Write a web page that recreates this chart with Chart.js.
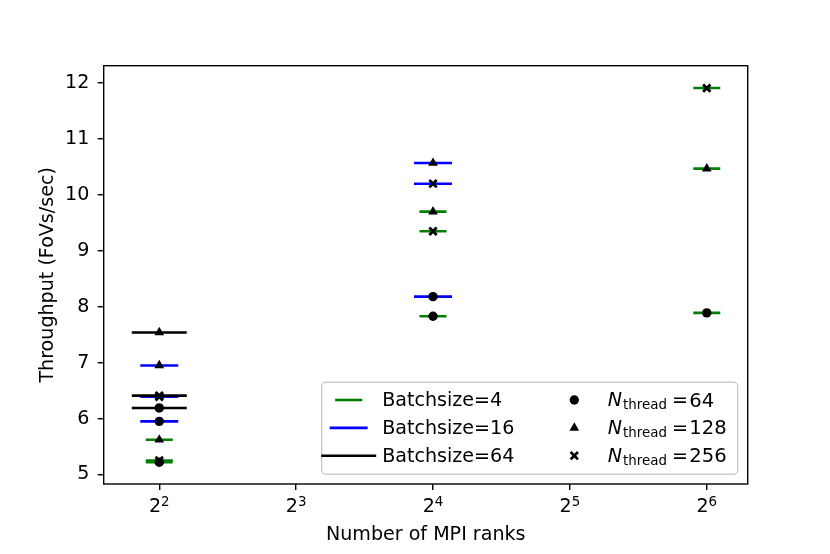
<!DOCTYPE html>
<html>
<head>
<meta charset="utf-8">
<script src="https://cdn.jsdelivr.net/npm/chart.js@4.4.0/dist/chart.umd.min.js"></script>
<style>
  html, body { margin: 0; background: #fff; }
  #wrap { width: 830px; height: 554px; }
</style>
</head>
<body>
<div id="wrap"><canvas id="chart" width="830" height="554"></canvas></div>
<script>
const ranks = [4, 16, 64];
const xTicks = [4, 8, 16, 32, 64];
const yTicks = [5, 6, 7, 8, 9, 10, 11, 12];
const batchSizes = [4, 16, 64];
const threadCounts = [64, 128, 256];

// throughput (FoVs/sec) for each rank count, null = no run
const b4_n64 = [5.22, 7.83, 7.89];
const b4_n128 = [5.62, 9.70, 10.47];
const b4_n256 = [5.25, 9.35, 11.91];
const b16_n64 = [5.95, 8.18, null];
const b16_n128 = [6.95, 10.57, null];
const b16_n256 = [6.39, 10.20, null];
const b64_n64 = [6.19, null, null];
const b64_n128 = [7.54, null, null];
const b64_n256 = [6.41, null, null];

const results = [
  [b4_n64, b4_n128, b4_n256],
  [b16_n64, b16_n128, b16_n256],
  [b64_n64, b64_n128, b64_n256]
];

const batchColors = ['green', 'blue', 'black'];
const batchHalfWidth = [13.5, 19, 27.5];
const threadMarkers = ['circle', 'triangle', 'crossRot'];
const threadRadius = [4.7, 5.6, 5.2];
const FONT = '"DejaVu Sans", sans-serif';
const FS = 19.1;
const FS_SMALL = 13.4;

function collect(pairs) {
  const pts = [];
  pairs.forEach(vals => vals.forEach((v, r) => {
    if (v !== null) pts.push({ x: ranks[r], y: v });
  }));
  return pts;
}

const datasets = [];
batchSizes.forEach((bs, b) => {
  datasets.push({
    label: 'Batchsize=' + bs,
    data: collect(results[b]),
    pointStyle: 'line',
    pointRadius: batchHalfWidth[b],
    pointHoverRadius: batchHalfWidth[b],
    pointBorderColor: batchColors[b],
    pointBorderWidth: 2.6,
    order: 3 - b
  });
});
threadCounts.forEach((nt, t) => {
  datasets.push({
    label: 'N_thread = ' + nt,
    data: collect(results.map(row => row[t])),
    pointStyle: threadMarkers[t],
    pointRadius: threadRadius[t],
    pointHoverRadius: threadRadius[t],
    pointBackgroundColor: 'black',
    pointBorderColor: 'black',
    pointBorderWidth: t === 2 ? 2.8 : 0,
    order: 0
  });
});

const framePlugin = {
  id: 'frame',
  afterDatasetsDraw(chart) {
    const { ctx, chartArea: a } = chart;
    ctx.save();
    ctx.strokeStyle = 'black';
    ctx.lineWidth = 1.4;
    ctx.strokeRect(a.left, a.top, a.right - a.left, a.bottom - a.top);

    // x tick labels as 2^n with a raised exponent
    const sx = chart.scales.x;
    ctx.fillStyle = 'black';
    ctx.textBaseline = 'alphabetic';
    ctx.textAlign = 'left';
    xTicks.forEach(v => {
      const exp = String(Math.round(Math.log2(v)));
      ctx.font = FS + 'px ' + FONT;
      const wb = ctx.measureText('2').width;
      ctx.font = FS_SMALL + 'px ' + FONT;
      const we = ctx.measureText(exp).width;
      const x0 = sx.getPixelForValue(v) - (wb + we) / 2;
      ctx.font = FS + 'px ' + FONT;
      ctx.fillText('2', x0, a.bottom + 27.7);
      ctx.font = FS_SMALL + 'px ' + FONT;
      ctx.fillText(exp, x0 + wb, a.bottom + 21.7);
    });
    ctx.restore();
  }
};

function drawMarker(ctx, t, x, y) {
  const r = threadRadius[t];
  ctx.fillStyle = 'black';
  ctx.strokeStyle = 'black';
  ctx.beginPath();
  if (threadMarkers[t] === 'circle') {
    ctx.arc(x, y, r, 0, Math.PI * 2);
    ctx.fill();
  } else if (threadMarkers[t] === 'triangle') {
    for (let k = 0; k < 3; k++) {
      const ang = k * 2 * Math.PI / 3;
      const px = x + Math.sin(ang) * r, py = y - Math.cos(ang) * r;
      k === 0 ? ctx.moveTo(px, py) : ctx.lineTo(px, py);
    }
    ctx.closePath();
    ctx.fill();
  } else {
    const d = r * Math.SQRT1_2;
    ctx.lineWidth = 2.8;
    ctx.moveTo(x - d, y - d); ctx.lineTo(x + d, y + d);
    ctx.moveTo(x - d, y + d); ctx.lineTo(x + d, y - d);
    ctx.stroke();
  }
}

const legendPlugin = {
  id: 'legendBox',
  afterDraw(chart) {
    const { ctx, chartArea: a } = chart;
    const w = 416, h = 92;
    const lx = a.right - 10 - w, ly = a.bottom - 9.7 - h;
    ctx.save();
    ctx.beginPath();
    ctx.roundRect(lx, ly, w, h, 4);
    ctx.fillStyle = 'rgba(255,255,255,0.8)';
    ctx.fill();
    ctx.strokeStyle = '#cccccc';
    ctx.lineWidth = 1.4;
    ctx.stroke();

    ctx.textBaseline = 'alphabetic';
    ctx.textAlign = 'left';
    for (let i = 0; i < 3; i++) {
      const y = ly + 17.7 + i * 27.85;
      // batch size handle
      ctx.beginPath();
      ctx.strokeStyle = batchColors[i];
      ctx.lineWidth = 2.6;
      ctx.moveTo(lx + 27 - batchHalfWidth[i], y);
      ctx.lineTo(lx + 27 + batchHalfWidth[i], y);
      ctx.stroke();
      ctx.fillStyle = 'black';
      ctx.font = FS + 'px ' + FONT;
      ctx.fillText('Batchsize=' + batchSizes[i], lx + 60.5, y + 6.3);

      // thread marker + mathtext style label
      drawMarker(ctx, i, lx + 252.6, y);
      ctx.fillStyle = 'black';
      ctx.font = 'italic ' + FS + 'px ' + FONT;
      ctx.fillText('N', lx + 286, y + 6.3);
      ctx.font = FS_SMALL + 'px ' + FONT;
      ctx.fillText('thread', lx + 301.4, y + 9);
      ctx.font = FS + 'px ' + FONT;
      ctx.fillText('=', lx + 350.4, y + 6.3);
      ctx.font = '19.6px ' + FONT;
      ctx.fillText(String(threadCounts[i]), lx + 367.6, y + 6.5);
    }
    ctx.restore();
  }
};

new Chart(document.getElementById('chart'), {
  type: 'scatter',
  data: { datasets },
  options: {
    responsive: false,
    animation: false,
    events: [],
    layout: { autoPadding: false, padding: { top: 65.7, right: 82.3, left: 0, bottom: 0 } },
    plugins: { legend: { display: false }, tooltip: { enabled: false } },
    scales: {
      x: {
        type: 'logarithmic',
        min: Math.pow(2, 1.594),
        max: Math.pow(2, 6.299),
        afterBuildTicks: s => { s.ticks = xTicks.map(v => ({ value: v })); },
        afterFit: s => { s.height = 70; },
        border: { display: false },
        grid: { drawOnChartArea: false, drawTicks: true, tickLength: 6, color: 'black', tickColor: 'black', lineWidth: 1.4 },
        ticks: { display: false, autoSkip: false, maxRotation: 0 },
        title: { display: true, text: 'Number of MPI ranks', color: 'black', font: { family: FONT, size: FS }, padding: { top: 0, bottom: 8 } }
      },
      y: {
        min: 4.83,
        max: 12.31,
        afterBuildTicks: s => { s.ticks = yTicks.map(v => ({ value: v })); },
        afterFit: s => { s.width = 103.7; },
        border: { display: false },
        grid: { drawOnChartArea: false, drawTicks: true, tickLength: 6, color: 'black', tickColor: 'black', lineWidth: 1.4 },
        ticks: { padding: 8.4, color: 'black', font: { family: FONT, size: FS } },
        title: { display: true, text: 'Throughput (FoVs/sec)', color: 'black', font: { family: FONT, size: FS }, padding: { top: 37, bottom: 0 } }
      }
    }
  },
  plugins: [framePlugin, legendPlugin]
});
</script>
</body>
</html>
